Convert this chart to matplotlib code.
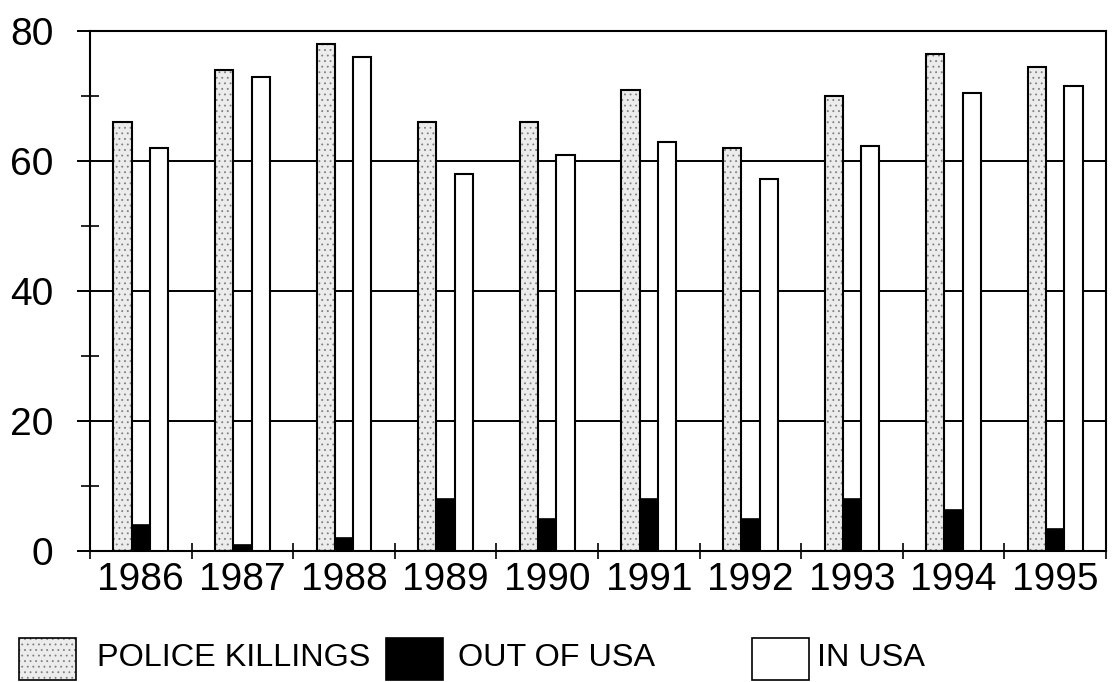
import matplotlib
matplotlib.use('Agg')
import matplotlib.pyplot as plt
import numpy as np
from matplotlib.patches import Rectangle

# Data
years = ['1986', '1987', '1988', '1989', '1990', '1991', '1992', '1993', '1994', '1995']
police_killings = [66, 74, 78, 66, 66, 71, 62, 70, 76.5, 74.5]
out_of_usa = [4, 1, 2, 8, 5, 8, 5, 8, 6.3, 3.4]
in_usa = [62, 73, 76, 58, 61, 63, 57.3, 62.3, 70.4, 71.6]

plt.rcParams['font.family'] = ['Liberation Sans', 'DejaVu Sans']
plt.rcParams['hatch.linewidth'] = 0.6

fig = plt.figure(figsize=(11.13, 6.82), dpi=100)
ax = fig.add_axes([90 / 1113, 1 - 551 / 682, 1016 / 1113, 520 / 682])

x = np.arange(len(years))
w = 0.18

# stippled bars: hatch layer then black outline
ax.bar(x - w, police_killings, w, color='#ececec', hatch='...', edgecolor='#808080', linewidth=0, zorder=2)
ax.bar(x - w, police_killings, w, fill=False, edgecolor='black', linewidth=1.5, zorder=3)
ax.bar(x, out_of_usa, w, color='black', edgecolor='black', linewidth=1.2, zorder=3)
ax.bar(x + w, in_usa, w, color='white', edgecolor='black', linewidth=1.5, zorder=3)

ax.set_xlim(-0.5, len(years) - 0.5)
ax.set_ylim(0, 80)

# y axis: major ticks with gridlines, minor ticks crossing the spine
ax.set_yticks([0, 20, 40, 60, 80])
ax.set_yticks([10, 30, 50, 70], minor=True)
ax.yaxis.grid(True, which='major', color='black', linewidth=1.4, zorder=1)
ax.tick_params(axis='y', which='major', direction='out', length=9.5, width=1.4,
               labelsize=28, pad=17)
ax.tick_params(axis='y', which='minor', direction='inout', length=13, width=1.2)

# x axis: labels at group centres, ticks on group boundaries
ax.set_xticks(x)
ax.set_xticklabels(years)
ax.set_xticks(np.arange(len(years) + 1) - 0.5, minor=True)
ax.tick_params(axis='x', which='major', length=0, labelsize=28, pad=8)
ax.tick_params(axis='x', which='minor', direction='inout', length=12, width=1.2)

for side in ['left', 'right', 'top', 'bottom']:
    ax.spines[side].set_linewidth(1.5)
ax.set_axisbelow(True)

# legend drawn along the bottom of the figure
def swatch(x0, **kw):
    fig.add_artist(Rectangle((x0 / 1113, 2 / 682), 57 / 1113, 42 / 682,
                             transform=fig.transFigure, **kw))

swatch(19, facecolor='#ececec', hatch='...', edgecolor='#808080', linewidth=0)
swatch(19, fill=False, edgecolor='black', linewidth=1.2)
swatch(386, facecolor='black', edgecolor='black', linewidth=1.2)
swatch(752, facecolor='white', edgecolor='black', linewidth=1.2)

ty = 1 - 658 / 682
fig.text(97 / 1113, ty, 'POLICE KILLINGS', fontsize=23.3, va='center')
fig.text(458 / 1113, ty, 'OUT OF USA', fontsize=23.3, va='center')
fig.text(817 / 1113, ty, 'IN USA', fontsize=23.3, va='center')

plt.savefig('out.png', dpi=100)
